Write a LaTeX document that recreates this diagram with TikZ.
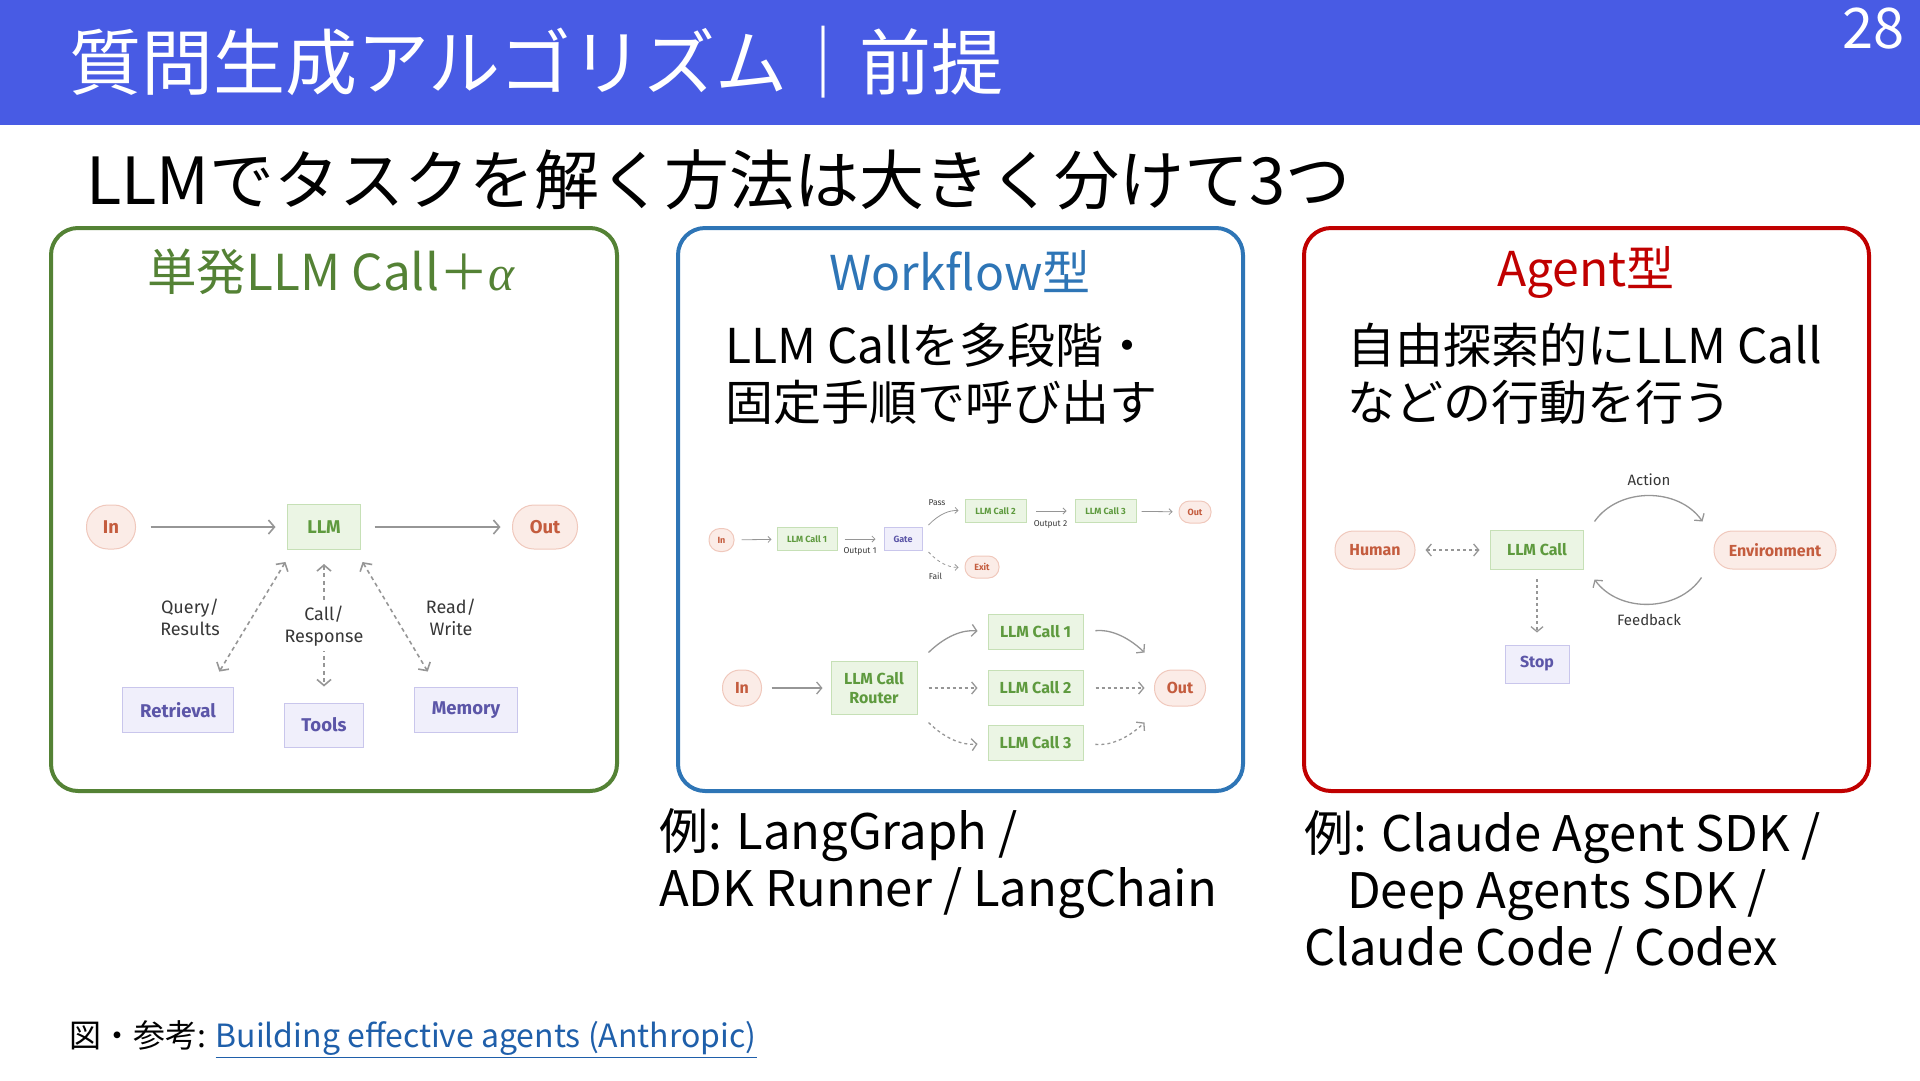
\documentclass[tikz,border=0pt]{standalone}
\usepackage{fontspec}
\setmainfont{Noto Sans CJK JP}
\newfontfamily\dgfont{Fira Sans}
\newfontfamily\grk{Liberation Serif}
\usetikzlibrary{arrows.meta}
\definecolor{hdrblue}{RGB}{72,91,228}
\definecolor{grn}{RGB}{84,130,53}
\definecolor{blu}{RGB}{46,117,182}
\definecolor{rd}{RGB}{192,0,0}
\definecolor{lnk}{RGB}{31,95,170}
\definecolor{pkfill}{RGB}{251,236,231}
\definecolor{pkline}{RGB}{240,200,188}
\definecolor{pktext}{RGB}{196,92,62}
\definecolor{gnfill}{RGB}{235,245,228}
\definecolor{gnline}{RGB}{198,224,182}
\definecolor{gntext}{RGB}{94,154,62}
\definecolor{ppfill}{RGB}{240,239,251}
\definecolor{ppline}{RGB}{201,198,236}
\definecolor{pptext}{RGB}{92,86,168}
\definecolor{arrgray}{RGB}{150,150,150}
\definecolor{lbl}{RGB}{55,55,55}

\tikzset{
  panel/.style={line width=4pt, rounded corners=27pt},
  sz/.style 2 args={minimum width=#1, minimum height=#2},
  io/.style={draw=pkline, fill=pkfill, text=pktext, line width=1pt},
  llm/.style={draw=gnline, fill=gnfill, text=gntext, line width=1pt},
  aux/.style={draw=ppline, fill=ppfill, text=pptext, line width=1pt},
  flow/.style={draw=arrgray, line width=1.3pt, >={Straight Barb[length=5pt,width=12pt]}, ->},
  bigflow/.style={draw=arrgray, line width=1.6pt, >={Straight Barb[length=6pt,width=14pt]}, ->},
  thinflow/.style={draw=arrgray, line width=0.8pt, >={Straight Barb[length=3pt,width=6pt]}, ->},
  dots/.style={dash pattern=on 3pt off 3pt},
  bigdots/.style={dash pattern=on 4pt off 3.5pt},
  note/.style={text=lbl, align=center},
  bigf/.style={font=\dgfont\bfseries\fontsize{18.5}{22}\selectfont},
  midf/.style={font=\dgfont\bfseries\fontsize{16}{19}\selectfont},
  tinyf/.style={font=\dgfont\bfseries\fontsize{9}{10}\selectfont},
  jp/.style={font=\fontsize{48}{57}\selectfont, align=left, anchor=west}
}

\begin{document}
\begin{tikzpicture}[x=1pt, y=-1pt, inner sep=0pt]
\useasboundingbox (0,0) rectangle (1920,1080);
\fill[hdrblue] (0,0) rectangle (1920,125);
\node[anchor=west, text=white, font=\fontsize{72}{80}\selectfont] (ttl) at (69,62) {質問生成アルゴリズム｜前提};
\node[anchor=north east, text=white, font=\fontsize{56}{60}\selectfont] (pgno) at (1905,8) {28};
\node[anchor=west, font=\fontsize{65}{72}\selectfont] (sub) at (86,180) {LLMでタスクを解く方法は大きく分けて3つ};

\draw[panel, grn] (51,228) rectangle (617,791);
\draw[panel, blu] (678,228) rectangle (1243,791);
\draw[panel, rd] (1304,228) rectangle (1869,791);

\node[text=grn, font=\fontsize{49.5}{56}\selectfont] (t1) at (331,272) {単発LLM Call＋{\grk\itshape α}};
\node[text=blu, font=\fontsize{48}{56}\selectfont] (t2) at (960,272) {Workflow型};
\node[text=rd, font=\fontsize{48}{56}\selectfont] (t3) at (1586,272) {Agent型};

\node[jp] (b2) at (725,374) {LLM Callを多段階・\\固定手順で呼び出す};
\node[jp] (b3) at (1347,374) {自由探索的にLLM Call\\などの行動を行う};

\node[jp, font=\fontsize{49}{57}\selectfont] (ex2) at (659,864) {例: LangGraph /\\ADK Runner / LangChain};
\node[jp, font=\fontsize{49}{57}\selectfont] (ex3) at (1304,892) {例: Claude Agent SDK /\\\hspace*{43pt}Deep Agents SDK /\\Claude Code / Codex};

\node[anchor=west, font=\fontsize{32}{38}\selectfont] (ref) at (69,1039) {図・参考: \textcolor{lnk}{\underline{Building effective agents (Anthropic)}}};

\node[io, bigf, sz={49pt}{44pt}, rounded corners=21.5pt] (in1) at (111,527) {In};
\node[llm, bigf, sz={73pt}{45pt}] (llm1) at (324,527) {LLM};
\node[io, bigf, sz={65pt}{44pt}, rounded corners=21.5pt] (out1) at (545,527) {Out};
\node[aux, bigf, sz={111pt}{45pt}] (ret) at (178,710) {Retrieval};
\node[aux, bigf, sz={79pt}{44pt}] (tools) at (324,725) {Tools};
\node[aux, bigf, sz={103pt}{45pt}] (mem) at (466,710) {Memory};
\draw[bigflow, shorten <=14.5pt, shorten >=11.5pt] (in1) -- (llm1);
\draw[bigflow, shorten <=13.5pt, shorten >=11.5pt] (llm1) -- (out1);
\draw[bigflow, bigdots, <->, shorten <=14pt, shorten >=18pt] ([xshift=5.7pt]llm1.south west) -- ([xshift=-24pt]ret.north east);
\draw[bigflow, bigdots, <->, shorten <=14pt, shorten >=16pt] (llm1.south) -- (tools.north);
\draw[bigflow, bigdots, <->, shorten <=14pt, shorten >=18pt] ([xshift=-5.6pt]llm1.south east) -- ([xshift=23pt]mem.north west);
\node[note, font=\dgfont\fontsize{18}{22}\selectfont] (q1) at (190,617) {Query/\\Results};
\node[note, font=\dgfont\fontsize{18}{22}\selectfont, fill=white, inner sep=5pt] (q2) at (324,626) {Call/\\Response};
\node[note, font=\dgfont\fontsize{18}{22}\selectfont] (q3) at (451,617) {Read/\\Write};

\node[io, tinyf, sz={25pt}{23pt}, rounded corners=11pt] (in2) at (721.5,540) {In};
\node[llm, tinyf, sz={60pt}{23pt}] (c1) at (807,539) {LLM Call 1};
\node[aux, tinyf, sz={38pt}{23pt}] (gate) at (903,539) {Gate};
\node[llm, tinyf, sz={61pt}{23pt}] (c2) at (995.5,511) {LLM Call 2};
\node[llm, tinyf, sz={61pt}{23pt}] (c3) at (1105.5,511) {LLM Call 3};
\node[io, tinyf, sz={32pt}{22pt}, rounded corners=10.5pt] (out2) at (1195,512) {Out};
\node[io, tinyf, sz={34pt}{22pt}, rounded corners=10.5pt] (exit) at (982,567) {Exit};
\draw[thinflow, shorten <=7pt, shorten >=5pt] (in2) -- (c1);
\draw[thinflow, shorten <=7pt, shorten >=8pt] (c1) -- (gate);
\draw[thinflow, shorten >=6pt] ([shift={(6pt,14pt)}]gate.east) to[bend left=25] (c2.west);
\draw[thinflow, dots, shorten >=6pt] ([shift={(6pt,-13pt)}]gate.east) to[bend right=25] (exit.west);
\draw[thinflow, shorten <=9.5pt, shorten >=8pt] (c2) -- (c3);
\draw[thinflow, shorten <=5pt, shorten >=6pt] (c3) -- (out2);
\node[note, font=\dgfont\fontsize{8.5}{9}\selectfont] (o1) at (860,551) {Output 1};
\node[note, font=\dgfont\fontsize{8.5}{9}\selectfont] (o2) at (1050.5,524) {Output 2};
\node[note, font=\dgfont\fontsize{8.5}{9}\selectfont] (ps) at (937,503) {Pass};
\node[note, font=\dgfont\fontsize{8.5}{9}\selectfont] (fl) at (935.5,576) {Fail};

\node[io, midf, sz={39pt}{36pt}, rounded corners=17.5pt] (in3) at (742,688) {In};
\node[llm, midf, sz={86pt}{53pt}, align=center] (rt) at (874,688) {LLM Call\\Router};
\node[llm, midf, sz={95pt}{35pt}] (r1) at (1035.5,632) {LLM Call 1};
\node[llm, midf, sz={95pt}{35pt}] (r2) at (1035.5,688) {LLM Call 2};
\node[llm, midf, sz={95pt}{35pt}] (r3) at (1035.5,743) {LLM Call 3};
\node[io, midf, sz={51pt}{36pt}, rounded corners=17.5pt] (out3) at (1180,688) {Out};
\draw[flow, shorten <=9.5pt, shorten >=8pt] (in3) -- (rt);
\draw[flow, shorten >=10pt] ([shift={(11pt,8.5pt)}]rt.north east) to[bend left=25] (r1.west);
\draw[flow, dots, shorten <=11pt, shorten >=10pt] (rt) -- (r2);
\draw[flow, dots, shorten >=10pt] ([shift={(11pt,-7.5pt)}]rt.south east) to[bend right=25] (r3.west);
\draw[flow, shorten <=12pt] (r1.east) to[bend left=25] ([shift={(-9.5pt,17pt)}]out3.north west);
\draw[flow, dots, shorten <=12pt, shorten >=9.5pt] (r2) -- (out3);
\draw[flow, dots, shorten <=12pt] (r3.east) to[bend right=25] ([shift={(-9.5pt,-16pt)}]out3.south west);

\node[io, midf, sz={80pt}{38pt}, rounded corners=18.5pt] (hum) at (1375,550) {Human};
\node[llm, midf, sz={93pt}{39pt}] (ag) at (1537,550) {LLM Call};
\node[io, midf, sz={122pt}{38pt}, rounded corners=18.5pt] (env) at (1775,550) {Environment};
\node[aux, midf, sz={64pt}{38pt}] (stop) at (1537,664) {Stop};
\draw[flow, dots, <->, shorten <=10pt, shorten >=10.5pt] (hum) -- (ag);
\draw[flow] ([shift={(10.5pt,8.5pt)}]ag.north east) to[bend left=55] ([shift={(-11pt,9pt)}]env.north west);
\draw[flow] ([shift={(-12pt,-8pt)}]env.south west) to[bend left=55] ([shift={(10.5pt,-9.5pt)}]ag.south east);
\draw[flow, dots, shorten <=9pt, shorten >=12pt] (ag) -- (stop);
\node[note, font=\dgfont\fontsize{15}{17}\selectfont] (act) at (1649,480) {Action};
\node[note, font=\dgfont\fontsize{15}{17}\selectfont] (fb) at (1649,620) {Feedback};
\end{tikzpicture}
\end{document}
